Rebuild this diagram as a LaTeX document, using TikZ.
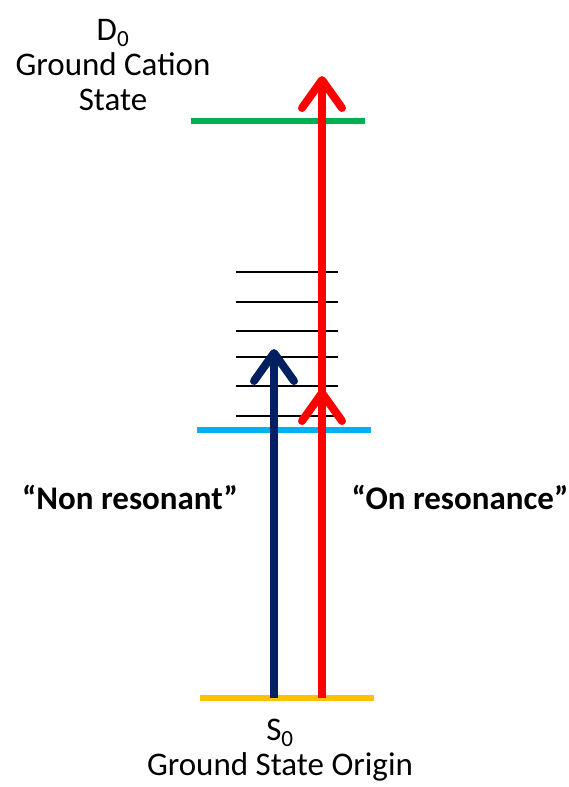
\documentclass[tikz,border=0pt]{standalone}
\usepackage{fontspec}
\setmainfont{Carlito}
\usetikzlibrary{arrows.meta}
\definecolor{lvgreen}{RGB}{0,176,80}
\definecolor{lvcyan}{RGB}{0,176,240}
\definecolor{lvgold}{RGB}{255,192,0}
\definecolor{navyarrow}{RGB}{0,32,96}
\begin{document}
\begin{tikzpicture}[x=1pt, y=-1pt,
  every node/.style={font=\fontsize{33}{35}\selectfont, align=center, inner sep=0pt},
  level/.style={line width=6.5pt},
  vib/.style={line width=1.2pt, black},
  photon/.style={line width=8pt, -{Straight Barb[length=28pt, width=40pt, round]}}]
\useasboundingbox (0,0) rectangle (568,787);

% levels
\draw[level, lvgreen] (191,121) -- (365,121);
\draw[level, lvcyan] (197,430) -- (371,430);
\draw[level, lvgold] (200,698) -- (374,698);
\foreach \y in {272,302,331,357,386,416}
  \draw[vib] (236,\y) -- (338,\y);

% photons
\coordinate (s0a) at (274,698);
\coordinate (s0b) at (322,698);
\coordinate (tipnr) at (274,349);
\coordinate (tipres) at (322,389);
\coordinate (tipion) at (322,76);
\draw[photon, navyarrow] (s0a) -- (tipnr);
\draw[photon, red] (s0b) -- (tipion);
\draw[photon, red] (s0b) -- (tipres);

% labels
\node (d0) at (113,65) {D\textsubscript{0}\\Ground Cation\\State};
\node[font=\fontsize{33}{35}\selectfont\bfseries] (nonres) at (130,497) {“Non resonant”};
\node[font=\fontsize{33}{35}\selectfont\bfseries] (onres) at (460,497) {“On resonance”};
\node (s0) at (280,750) {S\textsubscript{0}\\Ground State Origin};
\end{tikzpicture}
\end{document}
